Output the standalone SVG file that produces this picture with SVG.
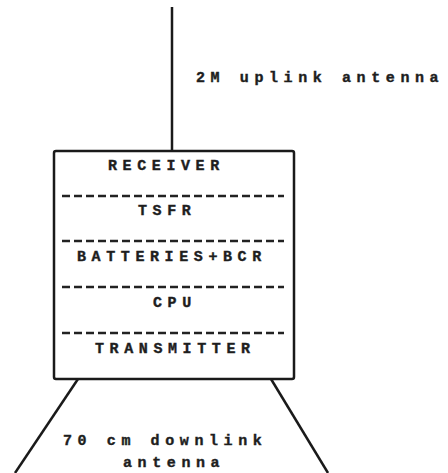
<svg xmlns="http://www.w3.org/2000/svg" width="448" height="473" viewBox="0 0 448 473">
<style>
.t{font-family:"Liberation Mono",monospace;font-weight:bold;font-size:15px;letter-spacing:5.6px;fill:#1e1e1e;stroke:#1e1e1e;stroke-width:0.4}
.l{stroke:#1a1a1a;stroke-width:2.5;fill:none}
.d{stroke:#222;stroke-width:2.5;stroke-dasharray:8,4}
</style>
<rect width="448" height="473" fill="#fff"/>
<g id="connectors">
<line class="l" x1="172" y1="7" x2="172" y2="151"/>
<line class="l" x1="78" y1="379" x2="15" y2="473"/>
<line class="l" x1="271" y1="379" x2="328" y2="473"/>
</g>
<g id="uplink-label"><text class="t" x="196" y="82">2M uplink antenna</text></g>
<g id="box">
<rect class="l" x="54" y="151" width="240" height="228" rx="2" stroke-width="3"/>
<line class="d" x1="62" y1="196" x2="284" y2="196"/>
<line class="d" x1="62" y1="241" x2="284" y2="241"/>
<line class="d" x1="62" y1="287" x2="284" y2="287"/>
<line class="d" x1="62" y1="333" x2="284" y2="333"/>
<text class="t" x="108" y="170">RECEIVER</text>
<text class="t" x="138" y="215">TSFR</text>
<text class="t" x="77" y="261">BATTERIES+BCR</text>
<text class="t" x="153" y="307">CPU</text>
<text class="t" x="95" y="353">TRANSMITTER</text>
</g>
<g id="downlink-label">
<text class="t" x="63" y="445">70 cm downlink</text>
<text class="t" x="123" y="467">antenna</text>
</g>
</svg>
